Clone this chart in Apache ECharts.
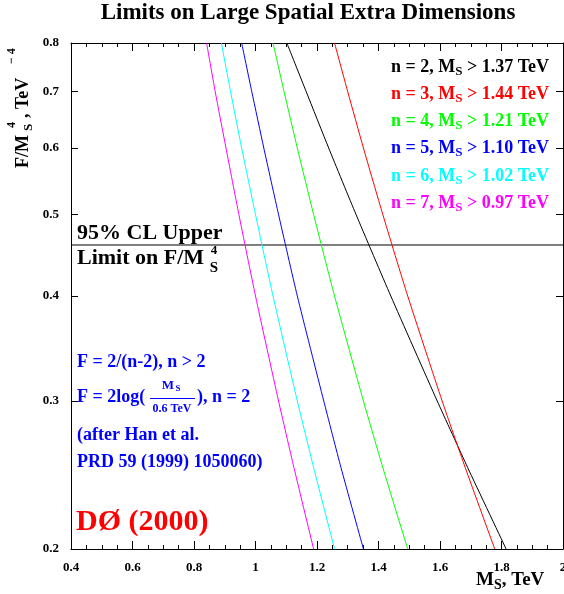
<!DOCTYPE html>
<html>
<head>
<meta charset="utf-8">
<script src="https://cdn.jsdelivr.net/npm/echarts@6/dist/echarts.min.js"></script>
<style>
html,body{margin:0;padding:0;background:#fff;}
#chart{width:564px;height:594px;}
</style>
</head>
<body>
<div id="chart"></div>
<script>
// F/Ms^4 levels (TeV^-4) at which Ms was read for each curve
const yLevels = [0.8, 0.7, 0.6, 0.5, 0.4, 0.3, 0.25, 0.2];
// Ms (TeV) read at each level
const msN2 = [1.102, 1.165, 1.238, 1.327, 1.440, 1.591, 1.690, 1.815];
const msN3 = [1.257, 1.300, 1.351, 1.414, 1.495, 1.607, 1.682, 1.778];
const msN4 = [1.057, 1.093, 1.136, 1.189, 1.257, 1.351, 1.414, 1.495];
const msN5 = [0.955, 0.988, 1.027, 1.075, 1.136, 1.222, 1.278, 1.351];
const msN6 = [0.889, 0.919, 0.955, 1.000, 1.057, 1.136, 1.189, 1.257];
const msN7 = [0.841, 0.869, 0.904, 0.946, 1.000, 1.075, 1.125, 1.189];
const upperLimit = 0.46;
const xTicks = [0.4, 0.6, 0.8, 1, 1.2, 1.4, 1.6, 1.8, 2];
const yTicks = [0.2, 0.3, 0.4, 0.5, 0.6, 0.7, 0.8];
const legendNames = ['n = 2', 'n = 3', 'n = 4', 'n = 5', 'n = 6', 'n = 7'];
const legendLimits = ['1.37', '1.44', '1.21', '1.10', '1.02', '0.97'];

const FONT = '"Liberation Serif", "Times New Roman", serif';
const colors = ['#000000', '#ff0000', '#00ff00', '#0000ff', '#00ffff', '#ff00ff'];
const curves = [msN2, msN3, msN4, msN5, msN6, msN7];

const chart = echarts.init(document.getElementById('chart'), null, {renderer: 'canvas'});

const series = curves.map((ms, k) => ({
  name: legendNames[k],
  type: 'line',
  data: ms.map((m, i) => [m, yLevels[i]]),
  showSymbol: false,
  symbol: 'none',
  smooth: 0.2,
  lineStyle: {color: colors[k], width: 1},
  clip: true,
  silent: true,
  z: 3
}));
series.push({
  name: 'limit',
  type: 'line',
  data: [[xTicks[0], upperLimit], [xTicks[xTicks.length - 1], upperLimit]],
  showSymbol: false,
  symbol: 'none',
  lineStyle: {color: '#000', width: 1},
  silent: true,
  z: 2
});

function txt(x, y, text, size, color, extra, rot) {
  const el = {
    type: 'text', x: x, y: y, z: 10,
    style: Object.assign({
      text: text, fill: color || '#000', fontSize: size,
      fontFamily: FONT, fontWeight: 'bold', align: 'left', verticalAlign: 'middle'
    }, extra || {})
  };
  if (rot) el.rotation = rot;
  return el;
}

const graphics = [];
// title
graphics.push(txt(308, 13, 'Limits on Large Spatial Extra Dimensions', 23, '#000', {align: 'center'}));
// legend-like annotations
const legY = [67, 94, 121, 148, 176, 203];
legendNames.forEach((nm, k) => {
  graphics.push({
    type: 'text', x: 549, y: legY[k], z: 10,
    style: {
      text: '{a|' + nm + ', M}{s|S}{a| > ' + legendLimits[k] + ' TeV}',
      align: 'right', verticalAlign: 'middle',
      rich: {
        a: {fontSize: 18, fontFamily: FONT, fontWeight: 'bold', fill: colors[k], lineHeight: 20},
        s: {fontSize: 13, fontFamily: FONT, fontWeight: 'bold', fill: colors[k], padding: [9, 0, 0, 0], lineHeight: 20}
      }
    }
  });
});
// 95% CL text
graphics.push(txt(77, 233, '95% CL Upper', 22));
graphics.push(txt(77, 258, 'Limit on F/M', 22));
graphics.push(txt(214, 268, 'S', 15, '#000', {align: 'center'}));
graphics.push(txt(214, 251, '4', 13, '#000', {align: 'center'}));
// blue formula notes
const BL = '#0000ff';
graphics.push(txt(77, 362, 'F = 2/(n-2), n > 2', 18, BL));
graphics.push(txt(77, 397, 'F = 2log(', 18, BL));
graphics.push(txt(168, 386, 'M', 13, BL, {align: 'center'}));
graphics.push(txt(178, 389, 'S', 9, BL, {align: 'center'}));
graphics.push({type: 'line', z: 10, shape: {x1: 150, y1: 398.5, x2: 195, y2: 398.5}, style: {stroke: BL, lineWidth: 1}});
graphics.push(txt(172, 409, '0.6 TeV', 12, BL, {align: 'center'}));
graphics.push(txt(197, 397, '), n = 2', 18, BL));
graphics.push(txt(77, 435, '(after Han et al.', 18, BL));
graphics.push(txt(77, 462, 'PRD 59 (1999) 1050060)', 18, BL));
// D0
graphics.push(txt(76, 522, 'DØ (2000)', 30, '#ff0000'));
// x axis title
graphics.push({
  type: 'text', x: 476, y: 580, z: 10,
  style: {
    text: '{a|M}{s|S}{a|, TeV}', align: 'left', verticalAlign: 'middle',
    rich: {
      a: {fontSize: 19, fontFamily: FONT, fontWeight: 'bold', fill: '#000', lineHeight: 20},
      s: {fontSize: 14, fontFamily: FONT, fontWeight: 'bold', fill: '#000', padding: [10, 0, 0, 0], lineHeight: 20}
    }
  }
});
// y axis title (rotated, reads bottom to top)
const R = Math.PI / 2;
graphics.push(txt(23, 168, 'F/M', 18, '#000', {}, R));
graphics.push(txt(29, 131, 'S', 13, '#000', {}, R));
graphics.push(txt(12, 128, '4', 12, '#000', {}, R));
graphics.push(txt(23, 118, ', TeV', 18, '#000', {}, R));
graphics.push(txt(12, 64, '\u2212 4', 12, '#000', {}, R));

const axisLabelStyle = {color: '#000', fontFamily: FONT, fontWeight: 'bold', fontSize: 13};

const option = {
  animation: false,
  backgroundColor: '#fff',
  grid: {left: 71, right: 1, top: 43, bottom: 45, containLabel: false, outerBoundsMode: 'none'},
  xAxis: [
    {
      type: 'value', min: 0.4, max: 2, interval: 0.2, position: 'bottom',
      axisLine: {onZero: false, lineStyle: {color: '#000', width: 1}},
      axisTick: {inside: true, length: 8, lineStyle: {color: '#000'}},
      minorTick: {show: true, splitNumber: 4, length: 4, lineStyle: {color: '#000'}},
      axisLabel: Object.assign({margin: 12}, axisLabelStyle),
      splitLine: {show: false}
    },
    {
      type: 'value', min: 0.4, max: 2, interval: 0.2, position: 'top',
      axisLine: {onZero: false, lineStyle: {color: '#000', width: 1}},
      axisTick: {inside: true, length: 8, lineStyle: {color: '#000'}},
      minorTick: {show: true, splitNumber: 4, length: 4, lineStyle: {color: '#000'}},
      axisLabel: {show: false},
      splitLine: {show: false}
    }
  ],
  yAxis: [
    {
      type: 'log', min: 0.2, max: 0.8, position: 'left',
      axisLine: {show: true, onZero: false, lineStyle: {color: '#000', width: 1}},
      axisTick: {show: true, inside: true, length: 7, customValues: yTicks, lineStyle: {color: '#000'}},
      axisLabel: Object.assign({margin: 12, customValues: yTicks, formatter: v => Number(v).toFixed(1)}, axisLabelStyle),
      splitLine: {show: false},
      minorTick: {show: false}
    },
    {
      type: 'log', min: 0.2, max: 0.8, position: 'right',
      axisLine: {show: true, onZero: false, lineStyle: {color: '#000', width: 1}},
      axisTick: {show: true, inside: true, length: 7, customValues: yTicks, lineStyle: {color: '#000'}},
      axisLabel: {show: false},
      splitLine: {show: false},
      minorTick: {show: false}
    }
  ],
  series: series,
  graphic: graphics
};
chart.setOption(option);
</script>
</body>
</html>
